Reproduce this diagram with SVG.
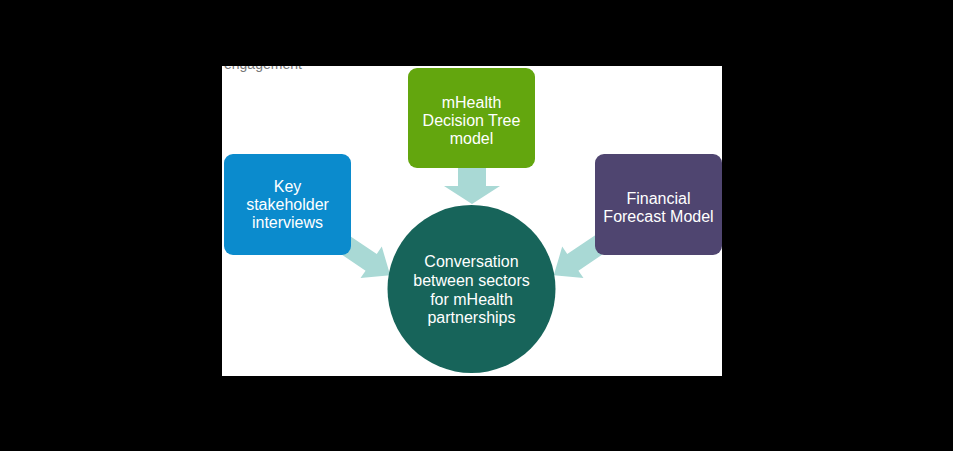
<svg xmlns="http://www.w3.org/2000/svg" width="953" height="451" viewBox="0 0 953 451">
<defs>
<style>
.t{font-family:"Liberation Sans",Arial,sans-serif;font-size:16px;fill:#ffffff;text-anchor:middle}
.arr{fill:#a9d9d5}
</style>
<clipPath id="wc"><rect x="222" y="66" width="500" height="310"/></clipPath>
<polygon id="ar" points="0,-10 40,-10 40,-19 63,0 40,19 40,10 0,10"/>
</defs>
<rect width="953" height="451" fill="#000"/>
<rect x="222" y="66" width="500" height="310" fill="#fff"/>
<text x="224" y="68.5" clip-path="url(#wc)" style="font-family:'Liberation Sans',Arial,sans-serif;font-size:14px;fill:#777">engagement</text>
<g id="connectors">
<polygon class="arr" points="458,168 486,168 486,186 500,186 472,204 444,186 458,186"/>
<use href="#ar" class="arr" transform="translate(338,240) rotate(34)"/>
<use href="#ar" class="arr" transform="translate(606,240) rotate(146)"/>
</g>
<g id="key">
<rect x="224" y="154" width="127" height="101" rx="9" fill="#0b8bcd"/>
<text class="t" x="287.5" y="192">Key</text>
<text class="t" x="287.5" y="210">stakeholder</text>
<text class="t" x="287.5" y="228">interviews</text>
</g>
<g id="decision">
<rect x="408" y="68" width="127" height="100" rx="9" fill="#63a60e"/>
<text class="t" x="471.5" y="108">mHealth</text>
<text class="t" x="471.5" y="126">Decision Tree</text>
<text class="t" x="471.5" y="144">model</text>
</g>
<g id="financial">
<rect x="595" y="154" width="127" height="101" rx="9" fill="#4f4570"/>
<text class="t" x="658.5" y="204">Financial</text>
<text class="t" x="658.5" y="222">Forecast Model</text>
</g>
<g id="center">
<circle cx="471.5" cy="289" r="84" fill="#17645a"/>
<text class="t" x="471.5" y="267">Conversation</text>
<text class="t" x="471.5" y="286">between sectors</text>
<text class="t" x="471.5" y="305">for mHealth</text>
<text class="t" x="471.5" y="323">partnerships</text>
</g>
</svg>
